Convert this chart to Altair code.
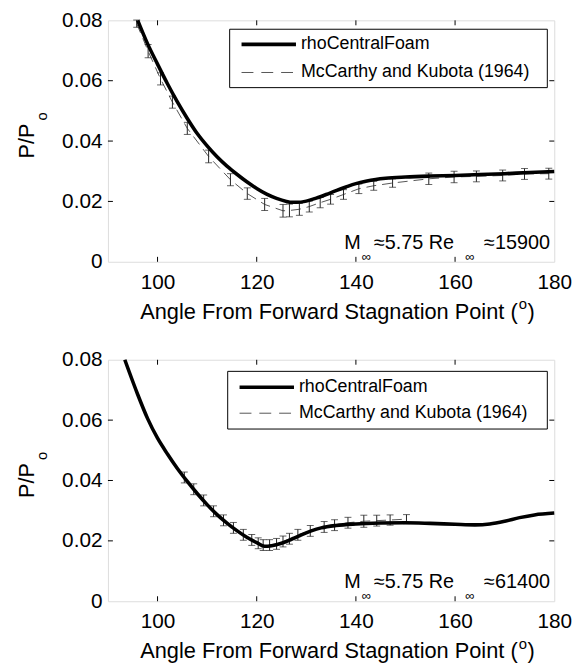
import altair as alt
import pandas as pd

FONT = "Liberation Sans"
W, H = 451, 244

ANGLE_TICKS = [100, 120, 140, 160, 180]
P_TICKS = [0, 0.02, 0.04, 0.06, 0.08]
INNER_X_TICKS = [100, 120, 140, 160]
INNER_Y_TICKS = [0.02, 0.04, 0.06]

# ---- top panel: M=5.75, Re=15900 ----
TOP_SIM_ANGLE = [96, 98, 100, 102, 104, 106, 108, 110, 112, 114, 116, 118, 120, 122, 124, 126,
                 127, 128, 130, 132, 134, 136, 138, 140, 142, 144, 146, 150, 155, 160, 165, 170, 175, 180]
TOP_SIM_P = [0.0800, 0.0722, 0.0655, 0.0590, 0.0530, 0.0475, 0.0425, 0.0384, 0.0348, 0.0317,
             0.0290, 0.0265, 0.0243, 0.0224, 0.0210, 0.0200, 0.0197, 0.0197, 0.0201, 0.0211,
             0.0223, 0.0236, 0.0248, 0.0259, 0.0267, 0.0273, 0.0277, 0.0281, 0.0284, 0.0286,
             0.0289, 0.0292, 0.0296, 0.0299]
TOP_EXP_ANGLE = [95.8, 98.1, 100.6, 103.0, 106.0, 110.3, 114.7, 118.1, 121.6, 125.3, 126.6, 128.6,
                 130.6, 132.8, 134.9, 137.5, 140.6, 143.6, 147.4, 154.7, 159.8, 164.3, 169.6, 174.0, 178.9]
TOP_EXP_P = [0.0789, 0.0698, 0.0606, 0.0529, 0.0442, 0.0349, 0.0272, 0.0226, 0.0190, 0.0169,
             0.0170, 0.0174, 0.0183, 0.0196, 0.0207, 0.0223, 0.0242, 0.0252, 0.0261, 0.0275,
             0.0281, 0.0283, 0.0286, 0.0291, 0.0292]
TOP_EXP_ERR = [0.0012, 0.0022, 0.0020, 0.0020, 0.0020, 0.0021, 0.0020, 0.0019, 0.0020, 0.0021,
               0.0021, 0.0020, 0.0018, 0.0017, 0.0016, 0.0016, 0.0016, 0.0015, 0.0014, 0.0019,
               0.0019, 0.0018, 0.0018, 0.0018, 0.0018]

# ---- bottom panel: M=5.75, Re=61400 ----
BOT_SIM_ANGLE = [93.4, 96, 98, 100, 102, 104, 106, 108, 110, 112, 114, 116, 118, 120, 121.6, 123,
                 125, 127, 129, 131, 133, 136, 140, 145, 150, 155, 160, 164, 167, 170, 173, 176, 180]
BOT_SIM_P = [0.0800, 0.0685, 0.0605, 0.0540, 0.0488, 0.0440, 0.0397, 0.0357, 0.0320, 0.0287,
             0.0259, 0.0234, 0.0212, 0.0194, 0.0182, 0.0184, 0.0192, 0.0205, 0.0220, 0.0233,
             0.0243, 0.0251, 0.0256, 0.0259, 0.0260, 0.0258, 0.0255, 0.0253, 0.0256, 0.0265,
             0.0277, 0.0286, 0.0292]
BOT_EXP_ANGLE = [105.4, 107.3, 109.3, 111.3, 113.3, 115.3, 117.3, 119.0, 120.3, 121.3, 122.6, 124.0,
                 125.3, 126.6, 128.3, 130.8, 133.6, 135.7, 138.4, 141.6, 144.2, 146.9, 150.2]
BOT_EXP_P = [0.0410, 0.0371, 0.0334, 0.0298, 0.0268, 0.0243, 0.0220, 0.0203, 0.0192, 0.0186,
             0.0186, 0.0190, 0.0198, 0.0207, 0.0220, 0.0233, 0.0246, 0.0252, 0.0260, 0.0265,
             0.0267, 0.0269, 0.0272]
BOT_EXP_ERR = [0.0018] * 19 + [0.0020, 0.0018, 0.0017, 0.0015]

SIM_NAME = "rhoCentralFoam"
EXP_NAME = "McCarthy and Kubota (1964)"
TOP_RE = "≈15900"
BOT_RE = "≈61400"

# annotation pieces (angle positions along the bottom of each panel)
ANN_LEFT_A = [137.66, 143.64]
ANN_LEFT_T = ["M", "≈5.75 Re"]
ANN_RIGHT_A = 179.13
ANN_P = 0.0043
SUB_A = [142.1, 163.0]
SUB_P = 0.0017


def panel(sim_a, sim_p, exp_a, exp_p, exp_e, re_text, leg_box, leg_rows):
    sim = pd.DataFrame({"a": sim_a, "p": sim_p})
    exp = pd.DataFrame({"a": exp_a, "p": exp_p,
                        "lo": [p - e for p, e in zip(exp_p, exp_e)],
                        "hi": [p + e for p, e in zip(exp_p, exp_e)]})
    xs = alt.Scale(domain=[90, 180], nice=False, zero=False)
    ys = alt.Scale(domain=[0, 0.08], nice=False, zero=False)
    xax = alt.Axis(values=ANGLE_TICKS, ticks=False, domain=False, grid=False,
                   labelFont=FONT, labelFontSize=21, labelPadding=10, labelColor="black",
                   labelFlush=False, title=None)
    yax = alt.Axis(values=P_TICKS, format=".2~f", ticks=False, domain=False, grid=False,
                   labelFont=FONT, labelFontSize=21, labelPadding=6, labelColor="black",
                   labelFlush=False, title=None)
    X = lambda f: alt.X(f, type="quantitative", scale=xs, axis=xax, title=None)
    Y = lambda f: alt.Y(f, type="quantitative", scale=ys, axis=yax, title=None)

    line_sim = alt.Chart(sim).mark_line(color="black", strokeWidth=3.6,
                                        interpolate="monotone").encode(x=X("a"), y=Y("p"))
    line_exp = alt.Chart(exp).mark_line(color="#555", strokeWidth=1,
                                        strokeDash=[10, 6]).encode(x=X("a"), y=Y("p"))
    bars = alt.Chart(exp).mark_rule(color="#222", strokeWidth=1).encode(
        x=X("a"), y=Y("lo"), y2="hi")
    cap_lo = alt.Chart(exp).mark_tick(color="#222", orient="horizontal", size=7,
                                      thickness=1).encode(x=X("a"), y=Y("lo"))
    cap_hi = alt.Chart(exp).mark_tick(color="#222", orient="horizontal", size=7,
                                      thickness=1).encode(x=X("a"), y=Y("hi"))

    xt = pd.DataFrame({"a": INNER_X_TICKS})
    yt = pd.DataFrame({"p": INNER_Y_TICKS})
    tick_b = alt.Chart(xt).mark_rule(color="black").encode(
        x=X("a"), y=alt.value(H), y2=alt.value(H - 5))
    tick_t = alt.Chart(xt).mark_rule(color="black").encode(
        x=X("a"), y=alt.value(0), y2=alt.value(5))
    tick_l = alt.Chart(yt).mark_rule(color="black").encode(
        y=Y("p"), x=alt.value(0), x2=alt.value(5))
    tick_r = alt.Chart(yt).mark_rule(color="black").encode(
        y=Y("p"), x=alt.value(W), x2=alt.value(W - 5))

    one = pd.DataFrame({"k": [0]})
    bx0, bx1, by0, by1 = leg_box
    r1, r2 = leg_rows
    leg_rect = alt.Chart(one).mark_rect(fill="white", stroke="black", strokeWidth=1).encode(
        x=alt.value(bx0), x2=alt.value(bx1), y=alt.value(by0), y2=alt.value(by1))
    leg_l1 = alt.Chart(one).mark_rule(color="black", strokeWidth=3.6).encode(
        x=alt.value(bx0 + 12), x2=alt.value(bx0 + 67), y=alt.value(r1))
    leg_l2 = alt.Chart(one).mark_rule(color="#555", strokeWidth=1, strokeDash=[12, 8]).encode(
        x=alt.value(bx0 + 12), x2=alt.value(bx0 + 67), y=alt.value(r2))
    leg_t1 = alt.Chart(one).mark_text(align="left", baseline="middle", font=FONT, fontSize=18,
                                      color="black").encode(
        x=alt.value(bx0 + 72), y=alt.value(r1), text=alt.value(SIM_NAME))
    leg_t2 = alt.Chart(one).mark_text(align="left", baseline="middle", font=FONT, fontSize=18,
                                      color="black").encode(
        x=alt.value(bx0 + 72), y=alt.value(r2), text=alt.value(EXP_NAME))

    # annotation M∞≈5.75 Re∞≈...
    ann_l = pd.DataFrame({"a": ANN_LEFT_A, "p": [ANN_P] * 2, "t": ANN_LEFT_T})
    ann_lt = alt.Chart(ann_l).mark_text(align="left", baseline="alphabetic", font=FONT,
                                        fontSize=20, color="black").encode(
        x=X("a"), y=Y("p"), text="t:N")
    ann_r = pd.DataFrame({"a": [ANN_RIGHT_A], "p": [ANN_P], "t": [re_text]})
    ann_rt = alt.Chart(ann_r).mark_text(align="right", baseline="alphabetic", font=FONT,
                                        fontSize=20, color="black").encode(
        x=X("a"), y=Y("p"), text="t:N")
    sub = pd.DataFrame({"a": SUB_A, "p": [SUB_P] * 2, "t": ["∞", "∞"]})
    sub_t = alt.Chart(sub).mark_text(align="center", baseline="middle", font=FONT,
                                     fontSize=13, color="black").encode(
        x=X("a"), y=Y("p"), text="t:N")

    # axis titles with sub/superscripts
    ytitle = alt.Chart(one).mark_text(angle=270, align="center", baseline="alphabetic",
                                      font=FONT, fontSize=22, color="black").encode(
        x=alt.value(-74.5), y=alt.value(122), text=alt.value("P/P"))
    ysub = alt.Chart(one).mark_text(angle=270, align="center", baseline="middle",
                                    font=FONT, fontSize=15, color="black").encode(
        x=alt.value(-67), y=alt.value(97), text=alt.value("o"))
    xtitle = alt.Chart(one).mark_text(align="right", baseline="alphabetic", font=FONT,
                                      fontSize=22, color="black").encode(
        x=alt.value(414), y=alt.value(301.7),
        text=alt.value("Angle From Forward Stagnation Point ("))
    xsup = alt.Chart(one).mark_text(align="left", baseline="middle", font=FONT,
                                    fontSize=15, color="black").encode(
        x=alt.value(415), y=alt.value(287), text=alt.value("o"))
    xclose = alt.Chart(one).mark_text(align="left", baseline="alphabetic", font=FONT,
                                      fontSize=22, color="black").encode(
        x=alt.value(424), y=alt.value(301.7), text=alt.value(")"))

    return alt.layer(
        line_exp, bars, cap_lo, cap_hi, line_sim,
        tick_b, tick_t, tick_l, tick_r,
        leg_rect, leg_l1, leg_l2, leg_t1, leg_t2,
        ann_lt, ann_rt, sub_t, ytitle, ysub, xtitle, xsup, xclose,
    ).properties(width=W, height=H)


top = panel(TOP_SIM_ANGLE, TOP_SIM_P, TOP_EXP_ANGLE, TOP_EXP_P, TOP_EXP_ERR, TOP_RE,
            (123, 444, 9, 68), (24.3, 52.7))
bot = panel(BOT_SIM_ANGLE, BOT_SIM_P, BOT_EXP_ANGLE, BOT_EXP_P, BOT_EXP_ERR, BOT_RE,
            (121, 444, 11.7, 70), (27.7, 54))

chart = alt.vconcat(top, bot, spacing=24).properties(
    padding={"left": 8, "top": -3, "right": 5, "bottom": 0}
).configure_view(stroke="black", strokeWidth=1).configure(background="white")

chart.save("out.html", embed_options={"renderer": "svg", "actions": False})
